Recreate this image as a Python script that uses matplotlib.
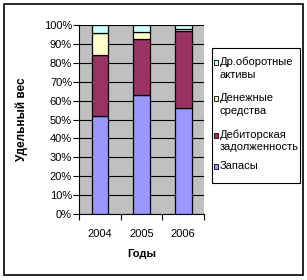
import matplotlib
matplotlib.use('Agg')
import matplotlib.pyplot as plt
import numpy as np
from matplotlib.patches import Rectangle
from matplotlib.ticker import FixedLocator

years = ['2004', '2005', '2006']
zapasy = [52, 63, 56]
debitor = [32, 29.4, 41]
dengi = [11.6, 3.9, 0.7]
drugie = [4.4, 3.7, 2.3]

names = [['Запасы'], ['Дебиторская', 'задолженность'], ['Денежные', 'средства'], ['Др.оборотные', 'активы']]
colors = ['#9999FF', '#993366', '#FFFFCC', '#CCFFFF']

plt.rcParams['font.family'] = ['Liberation Sans', 'DejaVu Sans']

W, H = 307, 280
fig = plt.figure(figsize=(W / 100, H / 100), dpi=100)
fig.patch.set_facecolor('white')

def fx(px):
    return px / W

def fy(py):
    return 1 - py / H

# outer chart border
fig.patches.append(Rectangle((fx(4), fy(275)), 299 / W, 271 / H, transform=fig.transFigure,
                             fill=False, edgecolor='black', linewidth=1.2))

ax = fig.add_axes([fx(79), fy(214), 125 / W, 189 / H])
ax.set_facecolor('#C0C0C0')

x = np.arange(len(years))
bottom = np.zeros(len(years))
for vals, c in zip([zapasy, debitor, dengi, drugie], colors):
    ax.bar(x, vals, 0.4, bottom=bottom, color=c, edgecolor='black', linewidth=0.9, zorder=3)
    bottom += np.array(vals)

ax.set_xlim(-0.5, 2.5)
ax.set_ylim(0, 100)
ax.set_yticks(np.arange(0, 101, 10))
ax.set_yticklabels(['{}%'.format(v) for v in range(0, 101, 10)], fontsize=8)
ax.yaxis.grid(True, color='black', linewidth=0.8, zorder=1)
ax.set_xticks(x)
ax.set_xticklabels(years, fontsize=8)
ax.xaxis.set_minor_locator(FixedLocator([-0.5, 0.5, 1.5, 2.5]))
ax.tick_params(axis='x', which='major', length=0, pad=11)
ax.tick_params(axis='x', which='minor', length=4, width=0.8)
ax.tick_params(axis='y', length=4, width=0.8, pad=1)
for s in ['top', 'right']:
    ax.spines[s].set_visible(False)
ax.spines['left'].set_linewidth(0.8)
ax.spines['bottom'].set_linewidth(0.8)

ax.set_xlabel('Годы', fontsize=8, fontweight='bold', labelpad=7)
ax.set_ylabel('Удельный вес', fontsize=8.5, fontweight='bold', labelpad=11)

# legend box drawn by hand, Excel style: marker next to first line
fig.patches.append(Rectangle((fx(212), fy(183)), 88 / W, 135 / H, transform=fig.transFigure,
                             facecolor='white', edgecolor='black', linewidth=0.8))
line_y = [[166], [135, 147.5], [98, 111], [62, 75.5]]
for c, lines, ys in zip(colors, names, line_y):
    fig.patches.append(Rectangle((fx(213.5), fy(ys[0] + 2.5)), 4.5 / W, 4.5 / H,
                                 transform=fig.transFigure, facecolor=c,
                                 edgecolor='black', linewidth=0.6))
    for t, yy in zip(lines, ys):
        fig.text(fx(219.5), fy(yy), t, fontsize=8, va='center', ha='left')

fig.savefig('out.png', dpi=100)
